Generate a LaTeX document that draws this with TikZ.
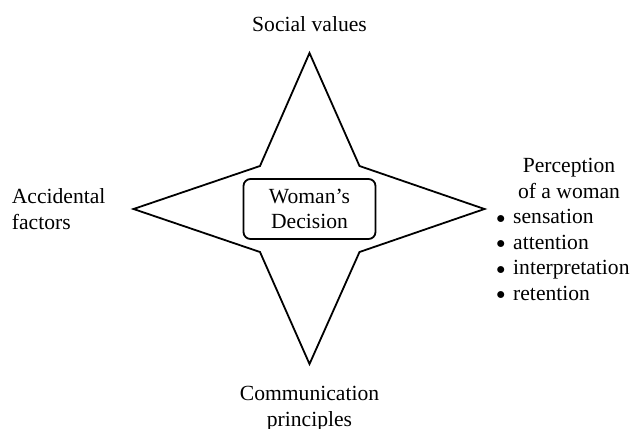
\documentclass[tikz,border=0pt]{standalone}
\usepackage{fontspec}
\setmainfont{Liberation Serif}
\usepackage{tikz}
\usetikzlibrary{positioning}

\newcommand{\itm}[1]{\makebox[8.4pt][l]{\raisebox{0.25pt}{\scalebox{0.82}{$\bullet$}}}#1}

\begin{document}
\begin{tikzpicture}[
    x=0.5pt, y=-0.5pt,
    txt/.style={inner sep=0pt, font=\fontsize{10.8}{12.75}\selectfont},
    decision/.style={rectangle, draw, line width=0.9pt, rounded corners=3.5pt, minimum width=66pt, minimum height=30pt, inner sep=0pt, text depth=0pt, align=center, font=\fontsize{10.8}{12.75}\selectfont},
    star/.style={draw, line width=0.9pt, line join=miter}
]
    \useasboundingbox (0,0) rectangle (630,428);

    % Star points
    \coordinate (top) at (309.5,53);
    \coordinate (tr) at (359.5,166);
    \coordinate (right) at (484.5,209);
    \coordinate (br) at (359.5,252);
    \coordinate (bottom) at (309.5,364);
    \coordinate (bl) at (260,252);
    \coordinate (left) at (133.5,209);
    \coordinate (tl) at (260,166);

    \draw [star] (top) -- (tr) -- (right) -- (br) -- (bottom) -- (bl) -- (left) -- (tl) -- cycle;

    % Centre
    \node (decision) [decision] at (309.5,209) {Woman's\\Decision};

    % Labels (base = last line)
    \node (social) [txt, anchor=base] at (309.5,31) {Social values};
    \node (accident) [txt, anchor=base west, align=left] at (11.5,229) {Accidental\\factors};
    \node (comm) [txt, anchor=base, align=center] at (309.5,426) {Communication\\principles};
    \node (percept) [txt, anchor=base, align=center] at (569,198.3) {Perception\\of a woman};
    \node (items) [txt, anchor=base west, align=left] at (496,300) {\itm{sensation}\\\itm{attention}\\\itm{interpretation}\\\itm{retention}};

\end{tikzpicture}
\end{document}
